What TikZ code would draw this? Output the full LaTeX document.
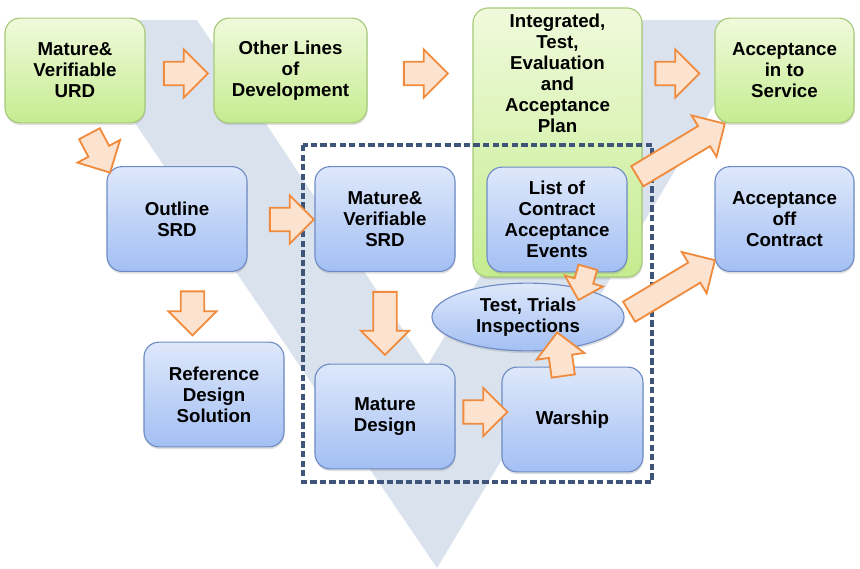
\documentclass[tikz,border=0pt]{standalone}
\usepackage{fontspec}
\setmainfont{Liberation Sans}
\usetikzlibrary{positioning,shapes.geometric,shapes.arrows,shadows}

\definecolor{vband}{HTML}{DAE2ED}
\definecolor{greentop}{HTML}{F0FADC}
\definecolor{greenbot}{HTML}{C5EC90}
\definecolor{greenline}{HTML}{A6C97A}
\definecolor{bluetop}{HTML}{DEE8FB}
\definecolor{bluebot}{HTML}{A3BFF3}
\definecolor{blueline}{HTML}{6E8CC4}
\definecolor{arrline}{HTML}{F08A3C}
\definecolor{arrfill}{HTML}{FCE3D0}
\definecolor{dashline}{HTML}{3F5479}

\begin{document}
\begin{tikzpicture}[%
        x=0.025cm, y=-0.025cm,
        boxtext/.style={align=center, font=\fontsize{13.3}{15}\selectfont\bfseries},
        box/.style={boxtext, rectangle, rounded corners=0.38cm, line width=0.8pt,
            minimum width=3.5cm, minimum height=2.62cm,
            drop shadow={opacity=0.25, shadow xshift=0.4pt, shadow yshift=-1.6pt}},
        greenbox/.style={box, draw=greenline, top color=greentop, bottom color=greenbot},
        bluebox/.style={box, draw=blueline, top color=bluetop, bottom color=bluebot},
        fatarrow/.style={single arrow, draw=arrline, fill=arrfill, line width=1.3pt,
            inner xsep=0pt, inner ysep=0.27cm, single arrow head extend=0.31cm,
            single arrow tip angle=90, minimum height=1.1cm}
        ]
        \useasboundingbox (0,0) rectangle (860,568);

        % the V behind everything
        \fill[vband] (65,20) -- (197,20) -- (427,366) -- (633,20) -- (765,20) -- (437,568) -- cycle;

        \node[greenbox] (urd) at (75,70.5) {Mature\&\\Verifiable\\URD};
        \node[greenbox, minimum width=3.825cm] (other) at (290.5,70.5) {Other Lines\\of\\Development};
        \node[greenbox, minimum width=4.225cm, minimum height=6.725cm] (itea) at (557.5,142.5) {};
        \node[boxtext, below=1pt of itea.north] (iteatext) {Integrated,\\Test,\\Evaluation\\and\\Acceptance\\Plan};
        \node[greenbox, minimum width=3.475cm] (ais) at (784.5,70.5) {Acceptance\\in to\\Service};

        \node[bluebox] (osrd) at (177,219) {Outline\\SRD};
        \node[bluebox] (mvsrd) at (385,219) {Mature\&\\Verifiable\\SRD};
        \node[bluebox] (loc) at (557,219.5) {List of\\Contract\\Acceptance\\Events};
        \node[bluebox, minimum width=3.475cm] (aoc) at (784.5,219) {Acceptance\\off\\Contract};
        \node[bluebox] (rds) at (214,394.5) {Reference\\Design\\Solution};
        \node[bluebox] (mdes) at (385,416.5) {Mature\\Design};
        \node[bluebox, minimum width=3.525cm] (warship) at (572.5,419.5) {Warship};
        \node[box, ellipse, draw=blueline, top color=bluetop, bottom color=bluebot,
            minimum width=4.8cm, minimum height=1.575cm] (tti) at (528,317) {Test, Trials\\Inspections};

        % contract part
        \draw[dashline, line width=2.2pt, dash pattern=on 4.5pt off 2.3pt] (303,145) rectangle (652,482);

        \node[fatarrow] (a1) at (180,73.5) {};
        \node[fatarrow] (a2) at (420,73.5) {};
        \node[fatarrow] (a3) at (671.5,73.5) {};
        \node[fatarrow, rotate=-62] (a4) at (97,148) {};
        \node[fatarrow] (a5) at (286,219.5) {};
        \node[fatarrow, rotate=-90] (a6) at (192.5,307.5) {};
        \node[fatarrow, rotate=-90, minimum height=1.575cm] (a7) at (385,317.5) {};
        \node[fatarrow] (a8) at (479.5,412) {};
        \node[fatarrow, rotate=98] (a9) at (561,360) {};
        \node[fatarrow, rotate=-106, inner ysep=0.22cm, single arrow head extend=0.25cm,
            minimum height=0.85cm] (a10) at (584.5,279) {};
        \node[fatarrow, rotate=31, minimum height=2.55cm] (a11) at (676,153) {};
        \node[fatarrow, rotate=31, minimum height=2.5cm] (a12) at (667,289) {};

    \end{tikzpicture}
\end{document}
